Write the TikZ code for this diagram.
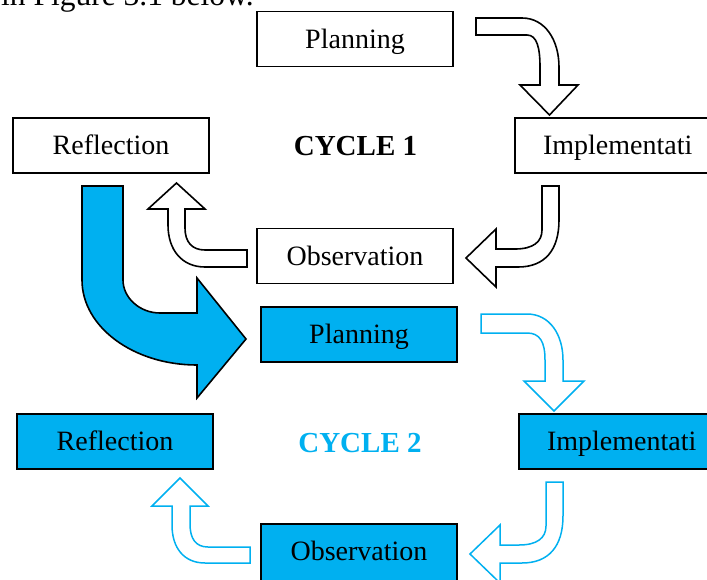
\documentclass[tikz,border=0pt]{standalone}
\usepackage{fontspec}
\setmainfont{Liberation Serif}
\definecolor{cblue}{HTML}{00B0F0}
\begin{document}
\begin{tikzpicture}[x=1pt,y=-1pt,
  box/.style={draw, line width=1.6pt, minimum width=196pt, minimum height=55pt, inner sep=0pt,
    font=\fontsize{28}{32}\selectfont, text height=18.5pt, text depth=0pt},
  bluebox/.style={box, fill=cblue},
  widebox/.style={minimum width=225pt, text width=169pt, inner xsep=28pt, align=left},
  blackarrow/.style={draw=black, fill=white, line width=1.6pt, line join=miter},
  bluearrow/.style={draw=cblue, fill=white, line width=1.5pt, line join=miter},
  bigarrow/.style={draw=black, fill=cblue, line width=1.6pt, line join=miter},
  cycletext/.style={font=\fontsize{29}{33}\selectfont\bfseries, anchor=base}]
\useasboundingbox (0,0) rectangle (707,579);
\clip (0,0) rectangle (707,579);
\fill[white] (0,0) rectangle (707,579);

\node[anchor=base west, inner sep=0pt, font=\fontsize{31.5}{36}\selectfont] (intro) at (1,5) {in Figure 3.1 below.};

% Cycle 1
\node[box] (plan1) at (355,39) {Planning};
\node[box] (refl1) at (111,145.5) {Reflection};
\node[box, widebox] (impl1) at (627.5,145.5) {Implementati};
\node[box] (obs1) at (355,256) {Observation};
\node[cycletext] (cyc1) at (355.5,155) {CYCLE 1};

% Cycle 2
\node[bluebox] (plan2) at (359,334.5) {Planning};
\node[bluebox] (refl2) at (115,441.5) {Reflection};
\node[bluebox, widebox] (impl2) at (631.5,441.5) {Implementati};
\node[bluebox, minimum height=58pt] (obs2) at (359,553) {};
\node[font=\fontsize{28}{32}\selectfont, text height=18.5pt, text depth=0pt, inner sep=0pt] (obs2t) at (359,551.5) {Observation};
\node[cycletext, text=cblue] (cyc2) at (360,452) {CYCLE 2};

% black block arrows
\draw[blackarrow] (476,18) -- (522,18) .. controls (545,18) and (559,40) .. (559,67) -- (559,85) -- (578,85)
  -- (549.5,115) -- (520,85) -- (540,85) -- (540,67) .. controls (540,48) and (537,35) .. (527,35) -- (476,35) -- cycle;
\draw[blackarrow] (542,186) -- (559,186) -- (559,220) .. controls (559,250) and (545,267) .. (518,267) -- (496,267)
  -- (496,287) -- (466,258) -- (496,229) -- (496,249) -- (515,249) .. controls (533,249) and (542,242) .. (542,230) -- cycle;
\draw[blackarrow] (247,250) -- (247,267) -- (205,267) .. controls (182,267) and (168,250) .. (168,225) -- (168,209)
  -- (148,209) -- (176.5,183) -- (205,209) -- (185,209) -- (185,228) .. controls (185,242) and (192,250) .. (205,250) -- cycle;

% blue block arrows
\draw[bluearrow] (481,314) -- (527,314) .. controls (550,314) and (563,335) .. (563,360) -- (563,381) -- (584,381)
  -- (554,411) -- (524,381) -- (545,381) -- (545,360) .. controls (545,342) and (540,333) .. (527,333) -- (481,333) -- cycle;
\draw[bluearrow] (546,482) -- (563,482) -- (563,516) .. controls (563,546) and (549,563) .. (522,563) -- (500,563)
  -- (500,583) -- (470,554) -- (500,525) -- (500,545) -- (519,545) .. controls (537,545) and (546,538) .. (546,526) -- cycle;
\draw[bluearrow] (250,547) -- (250,563) -- (205,563) .. controls (184,563) and (172,548) .. (172,525) -- (172,506)
  -- (152,506) -- (180,478) -- (208,506) -- (190,506) -- (190,524) .. controls (190,539) and (196,547) .. (208,547) -- cycle;

% big transition arrow
\draw[bigarrow] (82,186) -- (123,186) -- (123,280) .. controls (123,298) and (140,313) .. (160,313) -- (197,313)
  -- (197,278) -- (246,339) -- (197,398) -- (197,365) .. controls (133.5,365) and (82,327) .. (82,280) -- cycle;
\end{tikzpicture}
\end{document}
